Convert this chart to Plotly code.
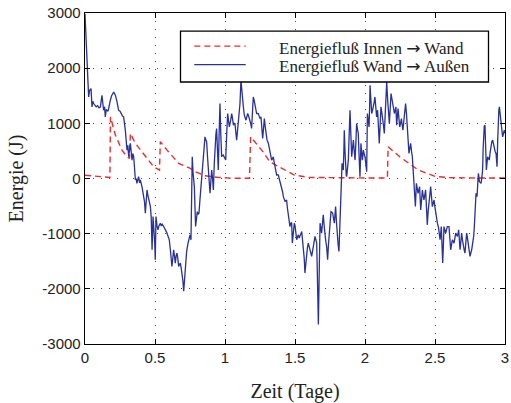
import plotly.graph_objects as go

# ---------------- data ----------------
innen_t = [0.0, 0.09, 0.178, 0.182, 0.217, 0.264, 0.3, 0.318,
           0.324, 0.36, 0.431, 0.49, 0.532,
           0.538, 0.586, 0.669, 0.752, 0.786, 0.857, 0.95, 1.06, 1.175,
           1.183, 1.262, 1.321, 1.429, 1.495, 1.6, 1.8, 2.0, 2.16,
           2.165, 2.248, 2.331, 2.38, 2.5, 2.6, 2.8, 3.0]
innen_e = [60, 40, 20, 1117, 786, 515, 394, 365,
           816, 636, 394, 214, 154,
           665, 515, 274, 184, 123, 50, 20, 5, 5,
           755, 515, 300, 154, 63, 20, 10, 10, 10,
           575, 394, 244, 154, 40, 15, 10, 10]

aussen_t = [0.0, 0.007, 0.014, 0.02, 0.026, 0.033, 0.043, 0.05, 0.056, 0.062,
            0.07, 0.08, 0.09, 0.1, 0.11, 0.121, 0.133, 0.14, 0.145, 0.152,
            0.157, 0.165, 0.181, 0.19, 0.205, 0.212, 0.217, 0.228, 0.24, 0.25,
            0.26, 0.268, 0.276, 0.282, 0.288, 0.3, 0.306, 0.312, 0.318, 0.324,
            0.336, 0.342, 0.348, 0.354, 0.36, 0.366, 0.371, 0.377, 0.383, 0.39,
            0.395, 0.407, 0.413, 0.419, 0.425, 0.431, 0.437, 0.443, 0.449, 0.455,
            0.461, 0.467, 0.473, 0.479, 0.486, 0.492, 0.498, 0.502, 0.507, 0.514,
            0.521, 0.528, 0.538, 0.545, 0.552, 0.562, 0.57, 0.578, 0.586, 0.594,
            0.602, 0.61, 0.621, 0.627, 0.633, 0.639, 0.645, 0.651, 0.657, 0.663,
            0.669, 0.675, 0.681, 0.687, 0.693, 0.699, 0.705, 0.711, 0.717, 0.726,
            0.736, 0.745, 0.75, 0.757, 0.762, 0.766, 0.772, 0.781, 0.79, 0.796,
            0.802, 0.808, 0.814, 0.821, 0.829, 0.837, 0.845, 0.851, 0.857, 0.863,
            0.869, 0.875, 0.881, 0.887, 0.893, 0.899, 0.905, 0.911, 0.917, 0.923,
            0.929, 0.935, 0.94, 0.946, 0.952, 0.958, 0.964, 0.97, 0.976, 0.982,
            0.988, 0.996, 1.005, 1.012, 1.019, 1.025, 1.031, 1.04, 1.048, 1.054,
            1.06, 1.065, 1.071, 1.077, 1.083, 1.089, 1.095, 1.101, 1.107, 1.114,
            1.119, 1.124, 1.131, 1.138, 1.144, 1.15, 1.156, 1.162, 1.17, 1.179,
            1.185, 1.19, 1.196, 1.202, 1.208, 1.214, 1.22, 1.226, 1.232, 1.238,
            1.244, 1.25, 1.257, 1.263, 1.269, 1.275, 1.281, 1.287, 1.293, 1.3,
            1.31, 1.315, 1.321, 1.327, 1.333, 1.339, 1.345, 1.351, 1.357, 1.363,
            1.369, 1.375, 1.381, 1.387, 1.393, 1.399, 1.405, 1.411, 1.417, 1.423,
            1.429, 1.435, 1.44, 1.446, 1.452, 1.458, 1.464, 1.47, 1.476, 1.481,
            1.488, 1.495, 1.5, 1.506, 1.512, 1.518, 1.524, 1.53, 1.536, 1.542,
            1.548, 1.554, 1.56, 1.566, 1.571, 1.577, 1.583, 1.589, 1.595, 1.601,
            1.607, 1.613, 1.619, 1.625, 1.631, 1.637, 1.643, 1.649, 1.655, 1.661,
            1.667, 1.673, 1.679, 1.685, 1.69, 1.696, 1.702, 1.708, 1.714, 1.72,
            1.726, 1.733, 1.739, 1.745, 1.751, 1.757, 1.763, 1.769, 1.775, 1.781,
            1.786, 1.79, 1.796, 1.802, 1.808, 1.814, 1.818, 1.821, 1.825, 1.829,
            1.833, 1.836, 1.841, 1.845, 1.849, 1.852, 1.857, 1.862, 1.866, 1.869,
            1.875, 1.881, 1.887, 1.893, 1.899, 1.905, 1.911, 1.917, 1.923, 1.929,
            1.935, 1.94, 1.946, 1.952, 1.958, 1.964, 1.968, 1.971, 1.976, 1.981,
            1.985, 1.988, 1.994, 2.0, 2.006, 2.012, 2.017, 2.023, 2.029, 2.033,
            2.036, 2.042, 2.048, 2.054, 2.06, 2.066, 2.071, 2.077, 2.083, 2.09,
            2.096, 2.102, 2.108, 2.114, 2.12, 2.126, 2.132, 2.138, 2.144, 2.15,
            2.155, 2.162, 2.168, 2.174, 2.18, 2.186, 2.192, 2.198, 2.204, 2.21,
            2.216, 2.221, 2.226, 2.232, 2.236, 2.242, 2.248, 2.254, 2.26, 2.265,
            2.271, 2.279, 2.285, 2.29, 2.296, 2.302, 2.308, 2.314, 2.32, 2.326,
            2.332, 2.338, 2.344, 2.35, 2.355, 2.36, 2.367, 2.373, 2.379, 2.385,
            2.39, 2.398, 2.404, 2.41, 2.415, 2.421, 2.427, 2.433, 2.439, 2.445,
            2.451, 2.457, 2.463, 2.469, 2.475, 2.481, 2.487, 2.493, 2.499, 2.505,
            2.511, 2.517, 2.526, 2.531, 2.536, 2.541, 2.545, 2.55, 2.555, 2.56,
            2.564, 2.57, 2.576, 2.582, 2.588, 2.594, 2.6, 2.606, 2.612, 2.618,
            2.624, 2.63, 2.636, 2.642, 2.648, 2.654, 2.66, 2.665, 2.669, 2.674,
            2.679, 2.685, 2.69, 2.696, 2.702, 2.708, 2.714, 2.72, 2.726, 2.732,
            2.738, 2.744, 2.75, 2.756, 2.762, 2.769, 2.776, 2.781, 2.786, 2.79,
            2.793, 2.797, 2.8, 2.805, 2.81, 2.814, 2.817, 2.823, 2.829, 2.835,
            2.84, 2.844, 2.848, 2.852, 2.857, 2.862, 2.867, 2.871, 2.876, 2.882,
            2.888, 2.894, 2.9, 2.906, 2.912, 2.918, 2.924, 2.93, 2.936, 2.94,
            2.943, 2.948, 2.952, 2.956, 2.96, 2.966, 2.971, 2.977, 2.983, 2.989,
            2.995, 3.0]
aussen_e = [2985, 2500, 2141, 1800, 1478, 1600, 1630, 1298, 1400, 1359,
            1320, 1300, 1320, 1280, 1300, 1509, 1238, 1300, 1117, 1250,
            1238, 1220, 1419, 1500, 1569, 1530, 1510, 1400, 1238, 1220,
            1165, 1130, 1117, 1000, 876, 515, 600, 394, 550, 636,
            334, 450, 394, 150, -27, 0, -87, -20, 33, -80,
            -27, -148, -250, -328, -420, -629, -350, -208, -300, -389,
            -480, -509, -700, -1292, -690, -900, -1171, -1473, -690, -850,
            -931, -860, -810, -860, -830, -870, -900, -950, -991, -1050,
            -1111, -1300, -1594, -1450, -1292, -1400, -1533, -1400, -1352, -1450,
            -1594, -1560, -1533, -1620, -1714, -1850, -2045, -1800, -1533, -1322,
            -1171, -1050, -1021, -1111, -329, 394, 100, -148, -871, -750,
            -600, -650, -630, -388, -148, 100, 334, 550, 755, 700,
            665, 400, 94, -100, -268, -50, 154, 0, -208, 250,
            636, 800, 907, 500, 154, 800, 1358, 800, 394, 420,
            424, 380, 334, 800, 1178, 1050, 936, 1050, 1178, 1080,
            967, 1000, 997, 850, 696, 850, 1027, 1200, 1358, 1780,
            1600, 1478, 1300, 1147, 1100, 1057, 1120, 1178, 1120, 1057,
            980, 907, 1200, 1478, 1420, 1358, 1260, 1178, 1180, 1178,
            1130, 1087, 1117, 900, 726, 900, 1087, 950, 786, 700,
            636, 580, 515, 420, 334, 360, 394, 300, 213, 130,
            63, 70, 63, 0, -57, -100, -148, -240, -329, -380,
            -419, -400, -389, -540, -690, -780, -871, -810, -800, -1171,
            -961, -810, -850, -980, -1111, -1060, -1021, -1080, -1051, -1000,
            -961, -1100, -1232, -1450, -1714, -1500, -1352, -1250, -1171, -1230,
            -1292, -1350, -1412, -1320, -1232, -1140, -1051, -1110, -1171, -1900,
            -2647, -1700, -810, -900, -991, -820, -660, -850, -1051, -1140,
            -1232, -1473, -1200, -991, -800, -600, -610, -630, -720, -810,
            -650, -509, -780, -1051, -1200, -1322, -1050, -810, -500, -208,
            50, 274, 200, 154, 500, 876, 500, 94, 60, 33,
            180, 334, 800, 1238, 800, 394, 550, 696, 500, 334,
            650, 997, 900, 816, 400, 33, 350, 636, 480, 334,
            420, 515, 450, 394, 260, 124, 1178, 1050, 936, 1300,
            1690, 1430, 1178, 1240, 1298, 1390, 1478, 1300, 1117, 1238,
            950, 636, 970, 1298, 1200, 1117, 960, 816, 1270, 1720,
            1749, 1419, 1200, 997, 1270, 1539, 1450, 1358, 1270, 1178,
            1240, 1298, 967, 1200, 1268, 1100, 936, 1000, 1087, 980,
            876, 1087, 1200, 1358, 1180, 997, 700, 455, 540, 636,
            500, 394, 150, -148, -330, -509, -87, -180, -268, -200,
            -148, -569, -380, -208, -300, -389, -300, -208, -520, -840,
            -600, -389, -260, -148, -330, -509, -450, -389, -510, -630,
            -720, -810, -900, -1000, -1111, -990, -871, -1200, -1533, -1200,
            -871, -930, -991, -930, -871, -871, -871, -1080, -1292, -1200,
            -1111, -1140, -1171, -1080, -991, -1020, -1051, -990, -931, -1110,
            -1292, -1140, -991, -1110, -1232, -1290, -1352, -1170, -991, -1080,
            -1171, -1290, -1413, -1350, -1292, -1170, -1051, -870, -690, -480,
            -268, -300, -329, -120, 94, 20, -57, -70, -87, 30,
            154, 550, 936, 950, 967, 560, 154, 270, 394, 364,
            334, 480, 636, 666, 696, 606, 515, 485, 455, 330,
            214, 700, 1178, 1240, 1298, 1150, 997, 876, 755, 815,
            876, 820]

x_ticks = [0, 0.5, 1, 1.5, 2, 2.5, 3]
x_tick_labels = ["0", "0.5", "1", "1.5", "2", "2.5", "3"]
y_ticks = [-3000, -2000, -1000, 0, 1000, 2000, 3000]
y_tick_labels = ["-3000", "-2000", "-1000", "0", "1000", "2000", "3000"]

ARROW = "<span style='font-family:DejaVu Sans'>\u2192</span>"
legend_labels = ["Energiefluß Innen " + ARROW + " Wand",
                 "Energiefluß Wand " + ARROW + " Außen"]
trace_names = ["Energiefluß Innen \u2192 Wand", "Energiefluß Wand \u2192 Außen"]
red = "#f0282d"
blue = "#28309a"

fig = go.Figure()
fig.add_trace(go.Scatter(x=innen_t, y=innen_e, mode="lines", name=trace_names[0],
                         line=dict(color=red, width=1.4, dash="6px,4px"),
                         showlegend=False, hoverinfo="skip"))
fig.add_trace(go.Scatter(x=aussen_t, y=aussen_e, mode="lines", name=trace_names[1],
                         line=dict(color=blue, width=1.3),
                         showlegend=False, hoverinfo="skip"))

axis_common = dict(
    showline=True, linecolor="black", linewidth=1.3, mirror="ticks",
    ticks="inside", ticklen=5, tickcolor="black", tickwidth=1,
    showgrid=True, gridcolor="#444", gridwidth=1, griddash="1px,7px",
    zeroline=False, automargin=False,
    tickfont=dict(family="Liberation Sans, Arial, sans-serif", size=15, color="#222"),
)

fig.update_layout(
    width=511, height=403,
    margin=dict(l=85, r=6, t=12.5, b=58.5),
    paper_bgcolor="white", plot_bgcolor="white",
    xaxis=dict(range=[0, 3], tickvals=x_ticks, ticktext=x_tick_labels,
               title=dict(text="Zeit (Tage)", standoff=18,
                          font=dict(family="Liberation Serif, Times New Roman, serif",
                                    size=20, color="#222")),
               **axis_common),
    yaxis=dict(range=[-3000, 3000], tickvals=y_ticks, ticktext=y_tick_labels,
               title=dict(text="Energie (J)", standoff=13,
                          font=dict(family="Liberation Serif, Times New Roman, serif",
                                    size=20, color="#222")),
               **axis_common),
    showlegend=False,
)

# legend box drawn in paper coordinates
def px_x(p):
    return (p - 85) / 420.0

def px_y(p):
    return (344.5 - p) / 332.0

fig.add_shape(type="rect", xref="paper", yref="paper",
              x0=px_x(180.5), x1=px_x(488.5), y0=px_y(81.7), y1=px_y(30.7),
              line=dict(color="black", width=1.3), fillcolor="white", layer="above")
fig.add_shape(type="line", xref="paper", yref="paper",
              x0=px_x(194.3), x1=px_x(245.7), y0=px_y(45.7), y1=px_y(45.7),
              line=dict(color=red, width=1.4, dash="6px,4px"), layer="above")
fig.add_shape(type="line", xref="paper", yref="paper",
              x0=px_x(194.3), x1=px_x(245.7), y0=px_y(64.3), y1=px_y(64.3),
              line=dict(color=blue, width=1.3), layer="above")
for lbl, yy in zip(legend_labels, [47.5, 65.5]):
    fig.add_annotation(text=lbl, xref="paper", yref="paper",
                       x=px_x(276.7), y=px_y(yy), xanchor="left", yanchor="middle",
                       showarrow=False,
                       font=dict(family="Liberation Serif, Times New Roman, serif",
                                 size=17, color="#222"))

fig.write_html("out.html",
               config={"displayModeBar": False, "staticPlot": True},
               post_script="document.body.style.margin='0px';document.body.style.overflow='hidden';")
